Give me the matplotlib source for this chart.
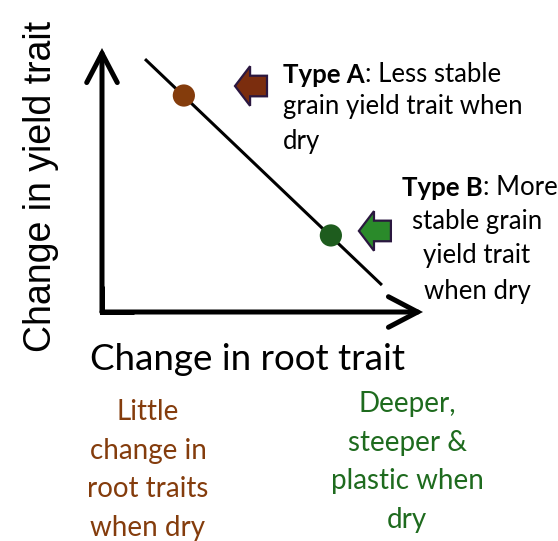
import matplotlib.pyplot as plt
from matplotlib.patches import FancyArrow

# conceptual trade-off line (axes units: 0..1 on both axes)
trend_x = [0.134, 0.872]
trend_y = [0.958, 0.102]

# the two types sitting on the line
type_names = ['Type A', 'Type B']
type_x = [0.255, 0.713]
type_y = [0.82, 0.29]
type_colors = ['#843C0C', '#1E5C1E']

type_a_text = ': Less stable'
type_a_rest = 'grain yield trait when\ndry'
type_b_text = ': More'
type_b_rest = 'stable grain\nyield trait\nwhen dry'

x_label = 'Change in root trait'
y_label = 'Change in yield trait'
left_note = 'Little\nchange in\nroot traits\nwhen dry'
right_note = 'Deeper,\nsteeper &\nplastic when\ndry'

W, H = 558, 541
fig = plt.figure(figsize=(W / 100, H / 100), dpi=100)
# origin of the diagram at pixel (102, 312); 1 unit = 321 px across, 264 px up
pad = 0.1
ax = fig.add_axes([(102 - pad * 321) / W, 1 - (312 + pad * 264) / H,
                   (1 + 2 * pad) * 321 / W, (1 + 2 * pad) * 264 / H])
ax.set_xlim(-pad, 1 + pad)
ax.set_ylim(-pad, 1 + pad)
ax.axis('off')

FONT = 'Lato'

def px(x, y):
    return x / W, 1 - y / H

# axis arrows and a mitred corner
head_kw = dict(arrowstyle='->, head_length=2.1, head_width=1.1', lw=3.6,
               color='black', mutation_scale=10, shrinkA=0, shrinkB=0,
               joinstyle='miter')
ax.annotate('', xy=(0, 1), xytext=(0, 0), arrowprops=head_kw)
ax.annotate('', xy=(1, 0), xytext=(0, 0), arrowprops=head_kw)
ax.plot([0, 0, 0.1], [0.1, 0, 0], color='black', lw=3.6,
        solid_joinstyle='miter', solid_capstyle='butt')

# trend line and type markers
ax.plot(trend_x, trend_y, color='black', lw=2.2, solid_capstyle='butt')
ax.scatter(type_x, type_y, s=16 ** 2, c=type_colors, zorder=3, linewidths=0)

# block arrows pointing at the dots
arrow_fill = ['#7B2D0E', '#2A8A2A']
arrow_tail = [0.514, 0.900]
arrow_y = [0.856, 0.307]
for tail, yy, fc in zip(arrow_tail, arrow_y, arrow_fill):
    ax.add_patch(FancyArrow(tail, yy, -0.0997, 0, width=0.078, head_width=0.15,
                            head_length=0.047, length_includes_head=True,
                            fc=fc, ec='#2B1740', lw=1.6, clip_on=False))

# annotations for the two types
fs = 18.5
ls = 1.5
ta = fig.text(*px(283, 75), type_names[0], fontsize=fs, fontweight='bold',
              family=FONT, ha='left', va='center')
ax.annotate(type_a_text, xy=(1, 0), xycoords=ta, fontsize=fs, family=FONT,
            ha='left', va='bottom')
fig.text(*px(283, 124), type_a_rest, fontsize=fs, family=FONT, ha='left',
         va='center', linespacing=ls)

tb = fig.text(*px(402, 188), type_names[1], fontsize=fs, fontweight='bold',
              family=FONT, ha='left', va='center')
ax.annotate(type_b_text, xy=(1, 0), xycoords=tb, fontsize=fs, family=FONT,
            ha='left', va='bottom')
fig.text(*px(477, 256), type_b_rest, fontsize=fs, family=FONT, ha='center',
         va='center', multialignment='center', linespacing=ls)

# axis titles
fig.text(*px(248, 360), x_label, fontsize=26.5, family=FONT, ha='center',
         va='center')
fig.text(*px(41, 186), y_label, fontsize=27, family='Liberation Sans',
         rotation=90, ha='center', va='center')

# notes under the x axis
fig.text(*px(148, 470), left_note, fontsize=20, family=FONT, ha='center',
         va='center', multialignment='center', linespacing=1.6,
         color='#843C0C')
fig.text(*px(407, 462), right_note, fontsize=20, family=FONT, ha='center',
         va='center', multialignment='center', linespacing=1.6,
         color='#1E6B1E')

fig.savefig('out.png', dpi=100)
